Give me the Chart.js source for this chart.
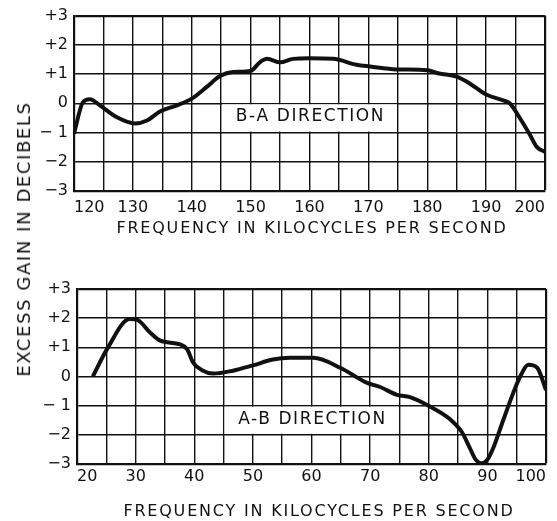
<!DOCTYPE html>
<html>
<head>
<meta charset="utf-8">
<script src="https://cdn.jsdelivr.net/npm/chart.js@4.4.1/dist/chart.umd.min.js"></script>
<style>
  html, body { margin: 0; padding: 0; background: #fff; }
  #wrap { position: relative; width: 557px; height: 521px; overflow: hidden; }
  canvas { position: absolute; left: 0; }
  .t { position: absolute; font-family: "DejaVu Sans", sans-serif; color: #111; white-space: nowrap;
       line-height: 1; transform: translate(-50%, -50%); }
</style>
</head>
<body>
<div id="wrap">
  <canvas id="topChart" width="557" height="245" style="top:0"></canvas>
  <canvas id="botChart" width="557" height="276" style="top:245px"></canvas>
  <div class="t" style="left:24px;top:239px;font-size:18px;letter-spacing:1.6px;transform:translate(-50%,-50%) rotate(-90deg)">EXCESS GAIN IN DECIBELS</div>
  <div class="t" style="left:312px;top:228px;font-size:16px;letter-spacing:1.8px">FREQUENCY IN KILOCYCLES PER SECOND</div>
  <div class="t" style="left:319px;top:511px;font-size:16px;letter-spacing:1.8px">FREQUENCY IN KILOCYCLES PER SECOND</div>
</div>
<script>
// B-A direction: frequency (kc/s) and excess gain (dB)
const baFreq = [120, 121.5, 122.7, 124.4, 127.3, 130.4, 132.4, 134.6, 137.5, 140, 142.6, 144.8, 147, 150, 151.6, 152.8, 155, 157.2, 160, 164, 168, 170.3, 174.8, 180, 182, 185, 187.2, 190, 192.9, 194, 195.8, 197.5, 198.6, 200];
const baGain = [-1.04, 0.03, 0.14, -0.07, -0.48, -0.69, -0.59, -0.28, -0.07, 0.16, 0.57, 0.93, 1.07, 1.11, 1.41, 1.52, 1.4, 1.52, 1.54, 1.52, 1.32, 1.26, 1.16, 1.13, 1.02, 0.91, 0.68, 0.3, 0.1, 0.0, -0.53, -1.1, -1.49, -1.66];

// A-B direction
const abFreq = [22.7, 25.1, 29, 30.2, 32.5, 34.2, 37.6, 38.8, 39.8, 41.5, 43.2, 46.6, 50, 53.4, 56.3, 60.3, 64.9, 69.5, 71.7, 74.6, 76.8, 80.2, 83.6, 85.7, 87, 88, 89, 90, 91, 92.7, 94.4, 95.6, 97, 98.5, 100];
const abGain = [0, 0.93, 1.97, 1.95, 1.5, 1.23, 1.1, 0.93, 0.48, 0.2, 0.1, 0.2, 0.38, 0.58, 0.64, 0.64, 0.3, -0.22, -0.36, -0.63, -0.71, -1.03, -1.46, -1.92, -2.45, -2.85, -2.97, -2.85, -2.45, -1.5, -0.57, 0.0, 0.4, 0.3, -0.46];

// Axis ranges and tick labels
const topRange = [120, 200];
const botRange = [20, 100];
const gainTicks = { '3': '+3', '2': '+2', '1': '+1', '0': '0', '-1': '\u2212 1', '-2': '\u22122', '-3': '\u22123' };

// Direction captions and the grid cells they occupy [x0, x1, y0, y1]
const topCaption = 'B-A DIRECTION';
const topCaptionCell = [145, 175, 0, -1];
const botCaption = 'A-B DIRECTION';
const botCaptionCell = [45, 75, -1, -2];

const INK = '#111';

const captionPlugin = {
  id: 'caption',
  beforeDatasetsDraw(chart, args, opts) {
    const { ctx, scales: { x, y } } = chart;
    const [a, b, c, d] = opts.cell;
    const x0 = x.getPixelForValue(a), x1 = x.getPixelForValue(b);
    const y0 = y.getPixelForValue(c), y1 = y.getPixelForValue(d);
    ctx.save();
    ctx.fillStyle = '#fff';
    ctx.fillRect(x0 + 1, y0 + 1, x1 - x0 - 2, y1 - y0 - 2);
    ctx.fillStyle = INK;
    ctx.font = '17px "DejaVu Sans"';
    ctx.letterSpacing = '1.6px';
    ctx.textAlign = 'center';
    ctx.textBaseline = 'middle';
    ctx.fillText(opts.text, (x0 + x1) / 2 + 1, (y0 + y1) / 2 - 1);
    ctx.restore();
  }
};

function makeChart(id, freq, gain, range, caption, cell, area) {
  const pts = freq.map((f, i) => ({ x: f, y: gain[i] }));
  return new Chart(document.getElementById(id), {
    type: 'line',
    data: { datasets: [{ data: pts, borderColor: INK, borderWidth: 4, pointRadius: 0,
                         cubicInterpolationMode: 'monotone', fill: false }] },
    options: {
      responsive: false, animation: false,
      layout: { padding: { left: 0, top: area.top, right: area.right, bottom: 0 } },
      plugins: { legend: { display: false }, tooltip: { enabled: false },
                 caption: { text: caption, cell: cell } },
      scales: {
        x: {
          type: 'linear', min: range[0], max: range[1],
          afterFit(s) { s.height = area.xh; },
          grid: { color: INK, drawTicks: false,
                  lineWidth: c => (c.tick && c.tick.value === range[1]) ? 2.2 : 1.4 },
          border: { color: INK, width: 2.2 },
          ticks: { stepSize: 5, autoSkip: false, maxRotation: 0, align: 'inner', color: INK,
                   padding: area.xpad, font: { family: 'DejaVu Sans', size: 16 },
                   callback: v => (v % 10 === 0 ? String(v) : '') }
        },
        y: {
          type: 'linear', min: -3, max: 3,
          afterFit(s) { s.width = area.left; },
          grid: { color: INK, drawTicks: false,
                  lineWidth: c => (c.tick && c.tick.value === 3) ? 2.2 : 1.4 },
          border: { color: INK, width: 2.2 },
          ticks: { stepSize: 1, color: INK, padding: 6, font: { family: 'DejaVu Sans', size: 16 },
                   callback: v => gainTicks[String(v)] }
        }
      }
    },
    plugins: [captionPlugin]
  });
}

makeChart('topChart', baFreq, baGain, topRange, topCaption, topCaptionCell,
          { left: 74, top: 14, right: 12, xh: 54, xpad: 7 });
makeChart('botChart', abFreq, abGain, botRange, botCaption, botCaptionCell,
          { left: 77, top: 44, right: 11, xh: 57, xpad: 3 });
</script>
</body>
</html>
